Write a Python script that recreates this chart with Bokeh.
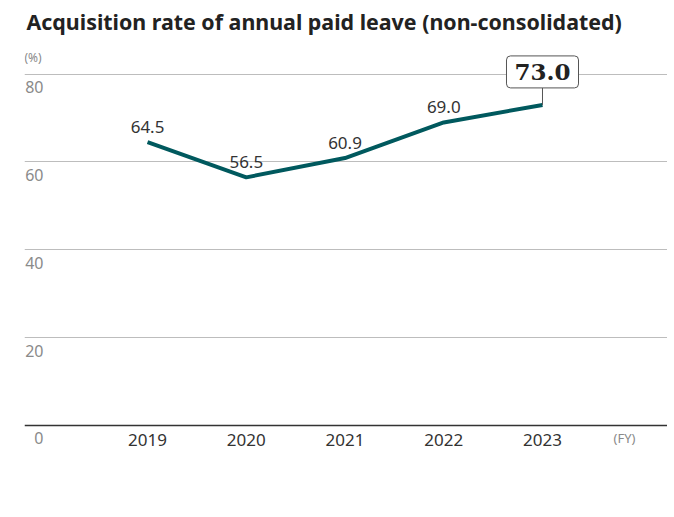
from bokeh.plotting import figure
from bokeh.models import Range1d, FixedTicker, Label, Title, ColumnDataSource
from bokeh.core.properties import value
from bokeh.embed import file_html
from bokeh.resources import INLINE

years = [2019, 2020, 2021, 2022, 2023]
rates = [64.5, 56.5, 60.9, 69.0, 73.0]
y_ticks = [0, 20, 40, 60, 80]
y_tick_labels = ["0", "20", "40", "60", "80"]
title_text = "Acquisition rate of annual paid leave (non-consolidated)"
unit_y = "(%)"
unit_x = "(FY)"

LINE = "#00595e"
X0, X1 = 2017.754, 2024.266
Y0, Y1 = -8.0, 87.9

p = figure(frame_width=643, frame_height=421, output_backend="svg", toolbar_location=None,
           x_range=Range1d(X0, X1), y_range=Range1d(Y0, Y1),
           min_border_left=24, min_border_right=0, min_border_top=10, min_border_bottom=0,
           outline_line_color=None)

t = Title(text=title_text, text_font="Noto Sans", text_font_size="21.4px",
          text_font_style="bold", text_color="#222222", align="left", offset=2, standoff=8)
p.add_layout(t, "above")

p.yaxis.visible = False
p.xgrid.visible = False
p.ygrid.ticker = FixedTicker(ticks=[t_ for t_ in y_ticks if t_ > 0])
p.ygrid.grid_line_color = "#bdbdbd"
p.ygrid.grid_line_width = 1

xa = p.xaxis[0]
xa.fixed_location = 0
xa.ticker = FixedTicker(ticks=years)
xa.major_tick_line_color = None
xa.minor_tick_line_color = None
xa.axis_line_color = "#333333"
xa.axis_line_width = 1.5
xa.major_label_text_font = "Noto Sans"
xa.major_label_text_font_size = "17px"
xa.major_label_text_color = "#333333"
xa.major_label_standoff = 3

# y tick labels drawn inside the plot, below their grid lines
ysrc = ColumnDataSource(dict(x=[X0] * len(y_ticks), y=y_ticks, t=y_tick_labels))
p.text(x="x", y="y", text="t", source=ysrc, x_offset=19, y_offset=13,
       text_align="right", text_baseline="middle", text_font=value("Noto Sans"),
       text_font_size="16px", text_color="#8a8a8a")

p.text(x=[X0], y=[80], text=[unit_y], x_offset=0, y_offset=-17, text_align="left",
       text_baseline="middle", text_font=value("Noto Sans"), text_font_size="12px",
       text_color="#8a8a8a")
p.text(x=[X1], y=[0], text=[unit_x], x_offset=-43, y_offset=13, text_align="center",
       text_baseline="middle", text_font=value("Noto Sans"), text_font_size="13px",
       text_color="#8a8a8a")

p.line(years, rates, line_color=LINE, line_width=4, line_join="round")

src = ColumnDataSource(dict(x=years[:-1], y=rates[:-1], t=[f"{v:.1f}" for v in rates[:-1]]))
p.text(x="x", y="y", text="t", source=src, y_offset=-15, text_align="center",
       text_baseline="middle", text_font=value("Noto Sans"), text_font_size="17px",
       text_color="#333333")

# callout for the latest value
stem_px = 17
p.segment(x0=[years[-1]], y0=[rates[-1]], x1=[years[-1]], y1=[rates[-1] + stem_px / 4.39],
          line_color="#555555", line_width=1)
lab = Label(x=years[-1], y=rates[-1], y_offset=stem_px, text=f"{rates[-1]:.1f}",
            text_align="center", text_baseline="bottom",
            text_font="DejaVu Serif", text_font_style="bold", text_font_size="23px",
            text_color="#222222", background_fill_color="white",
            border_line_color="#555555", border_line_width=1,
            padding=8, border_radius=4)
p.add_layout(lab)

open("out.html", "w").write(file_html(p, INLINE))
